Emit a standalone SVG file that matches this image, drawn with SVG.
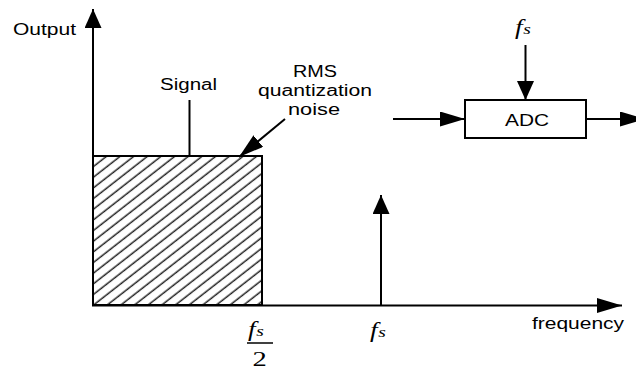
<svg xmlns="http://www.w3.org/2000/svg" width="636" height="370" viewBox="0 0 636 370">
<style>
.ln{stroke:#000;stroke-width:2;fill:none}
.lbl{font-family:"Liberation Sans",Arial,sans-serif;font-size:16px;fill:#000}
.fs{font-family:"Liberation Serif","DejaVu Serif",serif;font-style:italic;font-size:21px;fill:#000}
.num{font-family:"Liberation Serif","DejaVu Serif",serif;font-size:22px;fill:#000}
</style>
<defs>
<marker id="ah" markerUnits="userSpaceOnUse" markerWidth="26" markerHeight="16" refX="25" refY="7.5" orient="auto">
<path d="M0,0 L25,7.5 L0,15 z" fill="#000"/>
</marker>
<marker id="av" markerUnits="userSpaceOnUse" markerWidth="20" markerHeight="18" refX="19" refY="8.5" orient="auto">
<path d="M0,0 L19,8.5 L0,17 z" fill="#000"/>
</marker>
<pattern id="hatch" patternUnits="userSpaceOnUse" width="8.4" height="8.4" patternTransform="rotate(-38)">
<rect width="8.4" height="8.4" fill="#fff"/>
<line x1="-1" y1="4" x2="10" y2="4" stroke="#222" stroke-width="1.5"/>
</pattern>
</defs>

<g id="noise-band">
<rect x="93" y="156" width="169" height="149" fill="url(#hatch)" stroke="#000" stroke-width="2"/>
</g>

<g id="connectors">
<line class="ln" x1="93" y1="306" x2="93" y2="9" marker-end="url(#av)"/>
<line class="ln" x1="92" y1="305.5" x2="622" y2="305.5" marker-end="url(#ah)"/>
<line class="ln" x1="381" y1="305" x2="381" y2="195" marker-end="url(#av)"/>
<line class="ln" x1="189.5" y1="100" x2="189.5" y2="156"/>
<line class="ln" x1="285" y1="119" x2="239" y2="157" marker-end="url(#ah)"/>
<line class="ln" x1="393" y1="119" x2="465" y2="119" marker-end="url(#ah)"/>
<line class="ln" x1="586" y1="119" x2="645" y2="119" marker-end="url(#ah)"/>
<line class="ln" x1="525.5" y1="45" x2="525.5" y2="100" marker-end="url(#av)"/>
<line x1="247" y1="343" x2="273" y2="343" stroke="#000" stroke-width="1.5"/>
</g>

<g id="adc">
<rect x="465" y="100" width="121" height="38" fill="#fff" stroke="#000" stroke-width="2"/>
<text class="lbl" x="505" y="126" textLength="44" lengthAdjust="spacingAndGlyphs">ADC</text>
</g>

<g id="labels">
<text class="lbl" x="13" y="35" textLength="63" lengthAdjust="spacingAndGlyphs">Output</text>
<text class="lbl" x="160" y="90" textLength="57" lengthAdjust="spacingAndGlyphs">Signal</text>
<text class="lbl" x="293" y="77" textLength="44" lengthAdjust="spacingAndGlyphs">RMS</text>
<text class="lbl" x="258" y="96" textLength="114" lengthAdjust="spacingAndGlyphs">quantization</text>
<text class="lbl" x="288" y="115" textLength="52" lengthAdjust="spacingAndGlyphs">noise</text>
<text class="lbl" x="532" y="329" textLength="92" lengthAdjust="spacingAndGlyphs">frequency</text>
<text class="fs" transform="translate(515,34) scale(1.3,1)">f<tspan font-size="15" dx="0.5">s</tspan></text>
<text class="fs" transform="translate(248,336) scale(1.3,1)">f<tspan font-size="15" dx="0.5">s</tspan></text>
<text class="fs" transform="translate(370,337) scale(1.3,1)">f<tspan font-size="15" dx="0.5">s</tspan></text>
<text class="num" transform="translate(252.5,366) scale(1.3,1)">2</text>
</g>
</svg>
